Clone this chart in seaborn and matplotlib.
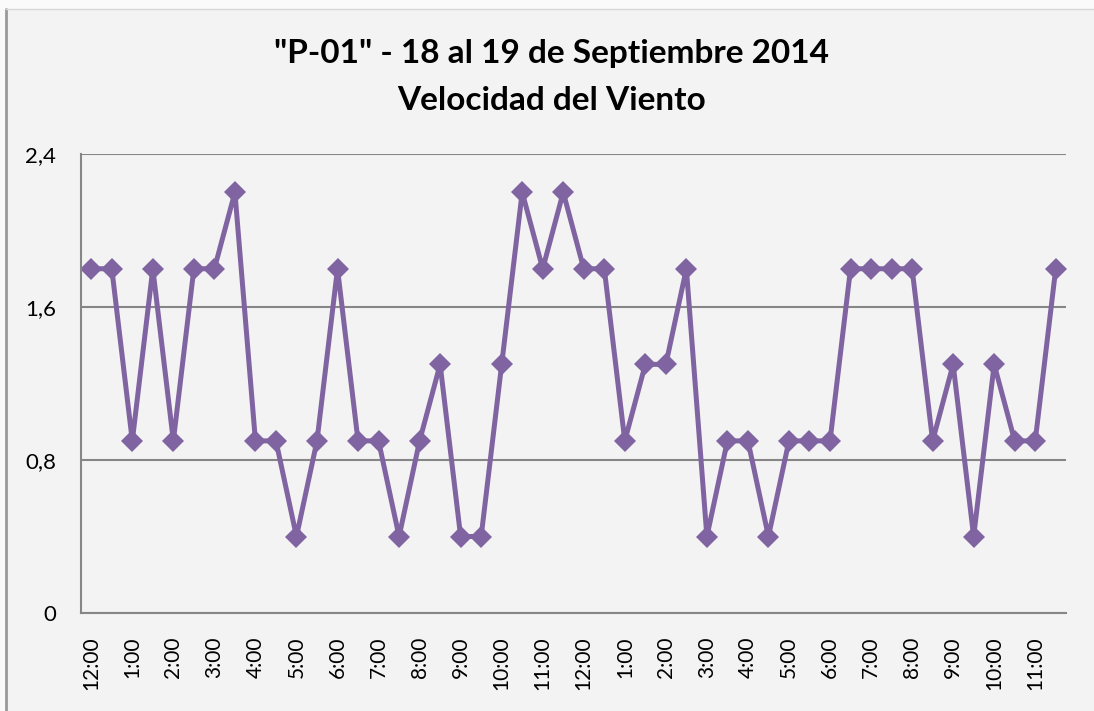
import matplotlib
matplotlib.use("Agg")
import matplotlib.pyplot as plt
import seaborn as sns
import numpy as np
import pandas as pd

hour_labels = ["12:00", "1:00", "2:00", "3:00", "4:00", "5:00", "6:00", "7:00",
               "8:00", "9:00", "10:00", "11:00"] * 2
speed = [1.8, 1.8, 0.9, 1.8, 0.9, 1.8, 1.8, 2.2, 0.9, 0.9, 0.4, 0.9,
         1.8, 0.9, 0.9, 0.4, 0.9, 1.3, 0.4, 0.4, 1.3, 2.2, 1.8, 2.2,
         1.8, 1.8, 0.9, 1.3, 1.3, 1.8, 0.4, 0.9, 0.9, 0.4, 0.9, 0.9,
         0.9, 1.8, 1.8, 1.8, 1.8, 0.9, 1.3, 0.4, 1.3, 0.9, 0.9, 1.8]
y_ticks = [0, 0.8, 1.6, 2.4]
y_tick_labels = ["0", "0,8", "1,6", "2,4"]
title_line1 = '"P-01" - 18 al 19 de Septiembre 2014'
title_line2 = "Velocidad del Viento"

df = pd.DataFrame({"idx": np.arange(len(speed)), "speed": speed})

sns.set_theme(style="white")
plt.rcParams["font.family"] = ["Lato", "DejaVu Sans"]

bg = "#F3F3F3"
grid_c = "#868686"
line_c = "#8064A2"
W, H = 1094, 711

fig = plt.figure(figsize=(W / 100, H / 100), dpi=100, facecolor="#FAFAFA")
fig.patches.append(plt.Rectangle((6 / W, -0.01), 1.0, 1 - 9 / H + 0.01, transform=fig.transFigure,
                                 facecolor=bg, edgecolor="none", zorder=-5))
fig.lines.append(plt.Line2D([6 / W, 6 / W], [-0.01, 1 - 9 / H], transform=fig.transFigure,
                            color="#9A9A9A", linewidth=2.0, zorder=-4))
fig.lines.append(plt.Line2D([6 / W, 1.01], [1 - 9 / H, 1 - 9 / H], transform=fig.transFigure,
                            color="#D8D8D8", linewidth=1.0, zorder=-4))

ax = fig.add_axes([81 / W, 1 - 613 / H, (1066 - 81) / W, (613 - 154) / H])
ax.set_facecolor(bg)
ax.set_zorder(1)

sns.lineplot(data=df, x="idx", y="speed", ax=ax, color=line_c, linewidth=3.6,
             marker="D", markersize=11.5, markeredgecolor=line_c, markeredgewidth=0)

n = len(speed)
ax.set_xlim(-0.5, n - 0.5)
ax.set_ylim(0, 2.4)
ax.set_yticks(y_ticks)
ax.set_yticklabels(y_tick_labels, fontsize=16, color="#000000")
ax.set_xticks(np.arange(0, n, 2))
ax.set_xticklabels(hour_labels, rotation=90, fontsize=15, color="#000000")
ax.set_xticks(np.arange(-0.5, n, 1), minor=True)
ax.tick_params(axis="x", which="major", length=0, pad=17)
ax.tick_params(axis="x", which="minor", length=5, width=1.5, color=grid_c, direction="out")
ax.tick_params(axis="y", which="major", length=6, width=1.5, color=grid_c, direction="out", pad=12)
ax.set_xlabel("")
ax.set_ylabel("")

ax.grid(axis="y", color=grid_c, linewidth=1.5)
ax.set_axisbelow(True)
for s in ["top", "right"]:
    ax.spines[s].set_visible(False)
for s in ["left", "bottom"]:
    ax.spines[s].set_color(grid_c)
    ax.spines[s].set_linewidth(1.5)

fig.text(552 / W, 1 - 53 / H, title_line1, ha="center", va="center", fontsize=24,
         fontweight="bold", color="#000000")
fig.text(552 / W, 1 - 101 / H, title_line2, ha="center", va="center", fontsize=24,
         fontweight="bold", color="#000000")

fig.savefig("out.png", dpi=100, facecolor=fig.get_facecolor())
